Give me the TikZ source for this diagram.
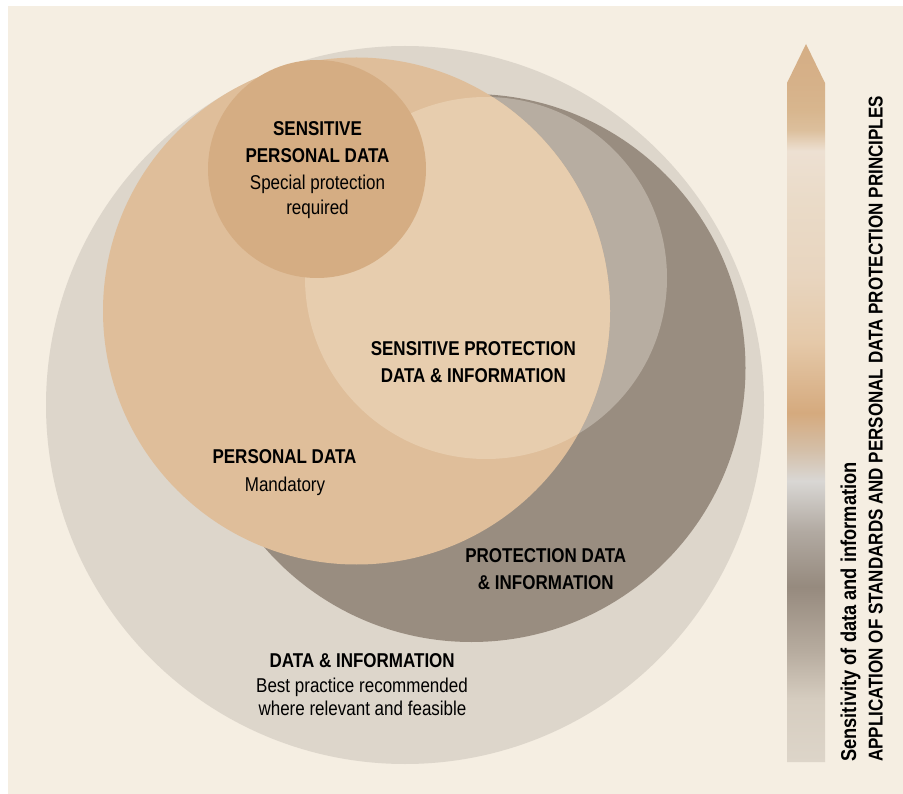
\documentclass[tikz,border=0pt]{standalone}
\usepackage{fontspec}
\setmainfont{Liberation Sans}[FakeStretch=0.85]
\definecolor{bgcream}{HTML}{F5EEE2}
\definecolor{outerc}{HTML}{DDD6CB}
\definecolor{darkc}{HTML}{998D80}
\definecolor{midgrey}{HTML}{B7ADA1}
\definecolor{personalc}{HTML}{DFBE9A}
\definecolor{lightc}{HTML}{E7CDAE}
\definecolor{sensc}{HTML}{D5AD83}
% gradient stops of the bar (bottom to top)
\definecolor{gA}{HTML}{DDD5C9}
\definecolor{gB}{HTML}{D6CDC0}
\definecolor{gC}{HTML}{B8ADA0}
\definecolor{gD}{HTML}{968A7E}
\definecolor{gE}{HTML}{B2AAA2}
\definecolor{gF}{HTML}{D9D7D4}
\definecolor{gG}{HTML}{D4BFA8}
\definecolor{gH}{HTML}{D5AA7E}
\definecolor{gI}{HTML}{E5C9A9}
\definecolor{gJ}{HTML}{E8D5BF}
\definecolor{gK}{HTML}{EADBC8}
\definecolor{gL}{HTML}{EDE0D2}
\definecolor{gM}{HTML}{DCBF9C}
\definecolor{gN}{HTML}{D8B68E}
\definecolor{gO}{HTML}{D6B189}
\definecolor{gP}{HTML}{D5AE85}
\pgfdeclareverticalshading{sensbar}{100bp}{%
color(0bp)=(gA); color(25bp)=(gA); color(29.32bp)=(gB); color(32.59bp)=(gC);
color(37.19bp)=(gD); color(41.09bp)=(gE); color(44.57bp)=(gF); color(46.73bp)=(gG);
color(49.30bp)=(gH); color(54.25bp)=(gI); color(58.84bp)=(gJ); color(64.14bp)=(gK);
color(67.55bp)=(gL); color(69.01bp)=(gM); color(70.41bp)=(gN); color(72.29bp)=(gO);
color(75bp)=(gP); color(100bp)=(gP)}
\tikzset{
  lblb/.style={font=\bfseries\fontsize{20}{24}\selectfont, inner sep=0pt, anchor=base},
  lblr/.style={font=\fontsize{20}{24}\selectfont, inner sep=0pt, anchor=base},
}
\begin{document}
\begin{tikzpicture}[x=1pt,y=-1pt]
\useasboundingbox (0,0) rectangle (903,794);
\fill[white] (0,0) rectangle (903,794);
\fill[bgcream] (8,6) rectangle (903,794);
% circles
\fill[outerc] (405,405) circle[radius=359];
\fill[darkc] (471.5,368) circle[radius=274];
\fill[midgrey] (486,278) circle[radius=181];
\fill[personalc] (356.5,311) circle[radius=253.5];
\begin{scope}
  \clip (356.5,311) circle[radius=253.5];
  \fill[lightc] (486,278) circle[radius=181];
\end{scope}
\fill[sensc] (317,169) circle[radius=109];
% bar arrow
\shade[shading=sensbar] (787,83) -- (806,44) -- (825,83) -- (825,762) -- (787,762) -- cycle;
% labels
\node[lblb] (spd1) at (317.5,136) {SENSITIVE};
\node[lblb] (spd2) at (317.5,162.7) {PERSONAL DATA};
\node[lblr] (spd3) at (317.5,190) {Special protection};
\node[lblr] (spd4) at (317.5,214.3) {required};
\node[lblb] (spi1) at (473.3,355.7) {SENSITIVE PROTECTION};
\node[lblb] (spi2) at (473.3,382.3) {DATA \& INFORMATION};
\node[lblb] (pd1) at (284.5,464) {PERSONAL DATA};
\node[lblr] (pd2) at (285,491) {Mandatory};
\node[lblb] (pi1) at (545.8,562.7) {PROTECTION DATA};
\node[lblb] (pi2) at (545.8,589.3) {\& INFORMATION};
\node[lblb] (di1) at (362.2,667.7) {DATA \& INFORMATION};
\node[lblr] (di2) at (362,692.7) {Best practice recommended};
\node[lblr] (di3) at (362.5,715) {where relevant and feasible};
\node[font=\bfseries\fontsize{21.5}{24}\selectfont, inner sep=0pt, rotate=90, anchor=base west] (sens) at (856,762) {Sensitivity of data and information};
\node[font=\bfseries\fontsize{20}{24}\selectfont, inner sep=0pt, rotate=90, anchor=base west] (appl) at (882.7,762) {APPLICATION OF STANDARDS AND PERSONAL DATA PROTECTION PRINCIPLES};
\end{tikzpicture}
\end{document}
